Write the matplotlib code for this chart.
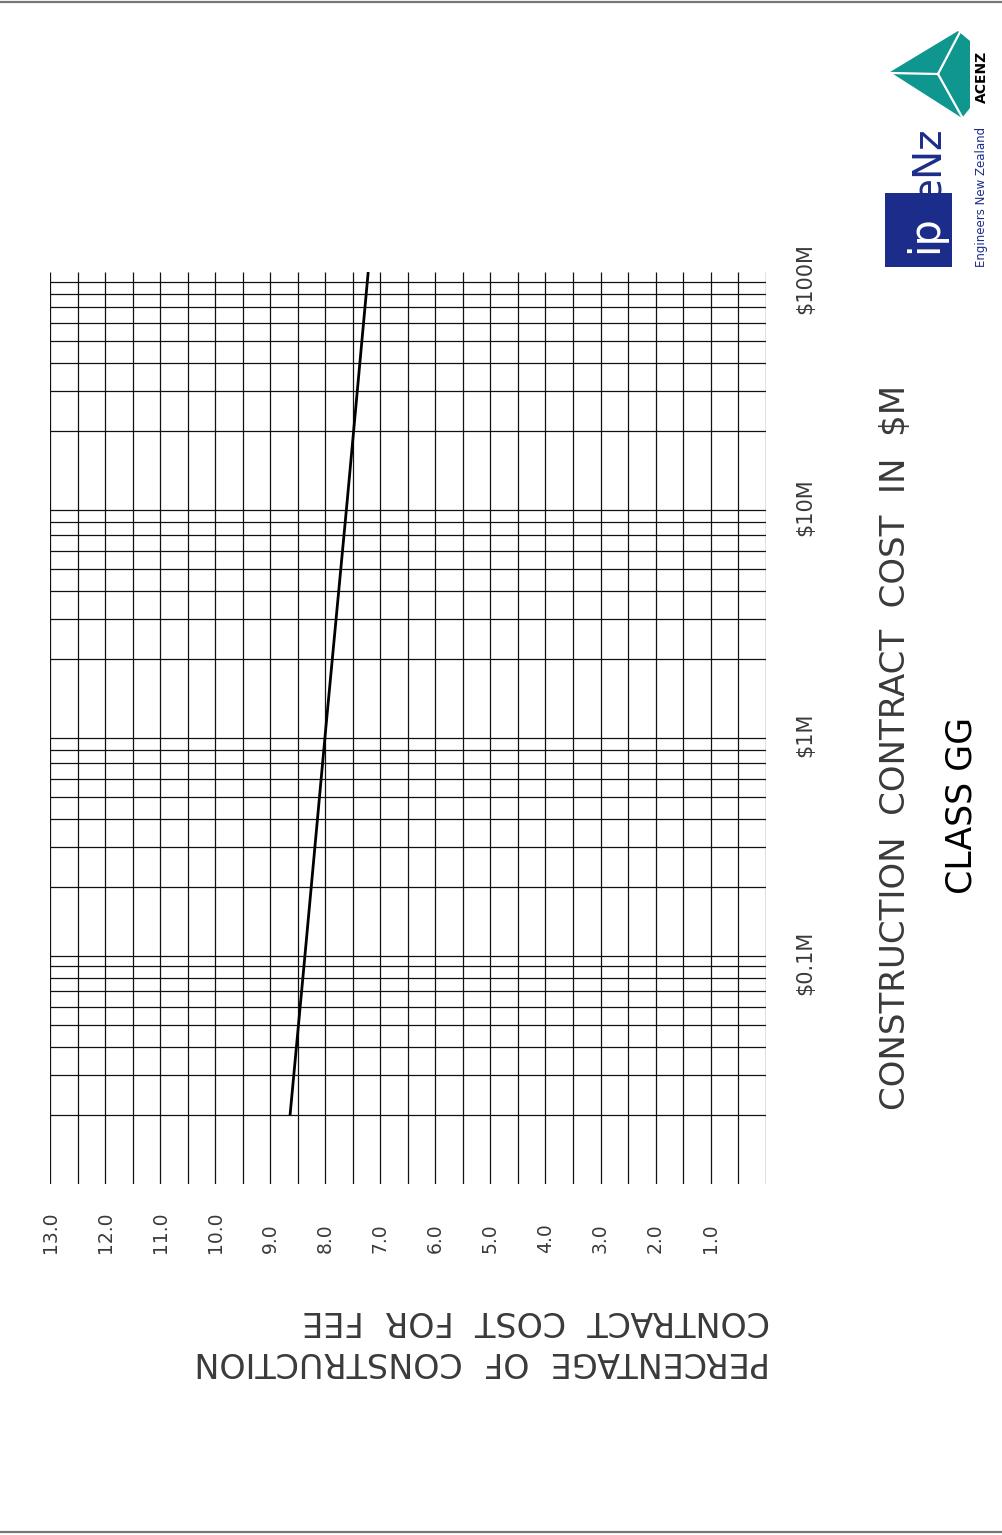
import numpy as np
import matplotlib
matplotlib.use("Agg")
import matplotlib.pyplot as plt
from matplotlib.patches import Polygon, Rectangle
from matplotlib.transforms import offset_copy

# fee curve, class GG (cost in $M, fee in % of construction cost)
cost = [0.02, 0.1, 1, 10, 100]
fee = [8.64, 8.37, 7.99, 7.60, 7.22]

pct_ticks = [13, 12, 11, 10, 9, 8, 7, 6, 5, 4, 3, 2, 1]
pct_labels = ["13.0", "12.0", "11.0", "10.0", "9.0", "8.0", "7.0",
              "6.0", "5.0", "4.0", "3.0", "2.0", "1.0"]
cost_ticks = [0.1, 1, 10, 100]
cost_labels = [r"\$0.1M", r"\$1M", r"\$10M", r"\$100M"]

W, H = 1003, 1535
fig = plt.figure(figsize=(W / 100, H / 100), dpi=100)
fig.patch.set_facecolor("white")

# chart area in pixels (left, top, right, bottom)
x0, y0, x1, y1 = 50, 272, 765.7, 1184
ax = fig.add_axes([x0 / W, (H - y1) / H, (x1 - x0) / W, (y1 - y0) / H])
ax.set_xlim(13, 0)
ax.set_yscale("log")
ax.set_ylim(0.01, 100)
ax.axis("off")

gc = "#111111"
ax.vlines(np.arange(0, 13.01, 0.5), 0.01, 100, color=gc, lw=0.9)
minor = [m * 10.0 ** k for k in range(-2, 2) for m in range(2, 10)] + [0.1]
ax.hlines(minor, 0, 13, color=gc, lw=0.9)

ax.plot(fee, cost, color="black", lw=2.0, solid_capstyle="butt")

thin = dict(family="DejaVu Sans", color="#3a3a3a")
tx = ax.get_xaxis_transform()
for v, s in zip(pct_ticks, pct_labels):
    ax.text(v, -0.0757, s, transform=tx, rotation=90, ha="center",
            va="bottom", fontsize=13.5, **thin)
ty = offset_copy(ax.get_yaxis_transform(), fig=fig, y=-7, units="dots")
for v, s in zip(cost_ticks, cost_labels):
    ax.text(1.055, v, s, transform=ty, rotation=90, ha="center",
            va="center", fontsize=15, **thin)

fig.text(896 / W, (H - 747) / H, r"CONSTRUCTION  CONTRACT  COST  IN  \$M",
         rotation=90, ha="center", va="center", fontsize=24.5, **thin)
fig.text(962 / W, (H - 805) / H, "CLASS GG", rotation=90, ha="center",
         va="center", fontsize=25, family="DejaVu Sans", color="black")
fig.text(770 / W, (H - 1341) / H,
         "PERCENTAGE  OF  CONSTRUCTION\nCONTRACT  COST  FOR  FEE",
         rotation=180, ha="right", va="center", multialignment="left",
         fontsize=24, linespacing=1.3, **thin)

# page frame and logos, drawn in pixel space
ov = fig.add_axes([0, 0, 1, 1], zorder=-1)
ov.set_xlim(0, W)
ov.set_ylim(H, 0)
ov.axis("off")
ov.plot([0, W], [2, 2], color="#777777", lw=1.6)
ov.plot([0, W], [1532, 1532], color="#777777", lw=1.6)

teal = "#0f968f"
ov.add_patch(Polygon([(958, 31), (970, 41), (970, 108), (962, 118), (890, 72)],
                     closed=True, color=teal, lw=0))
cx, cy = 938, 74
for ex, ey in [(960, 32), (891, 73), (962, 117)]:
    ov.plot([cx, ex], [cy, ey], color="white", lw=1.6)
ov.text(982, 77, "ACENZ", rotation=90, ha="center", va="center",
        fontsize=10, fontweight="bold", color="black")

navy = "#1b2c8a"
ov.add_patch(Rectangle((885, 193), 67, 74, color=navy, lw=0))
ov.text(925, 234, "ip", rotation=90, ha="center", va="center",
        fontsize=30, color="white")
ov.text(928, 163, "eNz", rotation=90, ha="center", va="center",
        fontsize=28, color=navy)
ov.text(982, 197, "Engineers New Zealand", rotation=90, ha="center",
        va="center", fontsize=8.5, color=navy)

fig.savefig("out.png", dpi=100, facecolor="white")
